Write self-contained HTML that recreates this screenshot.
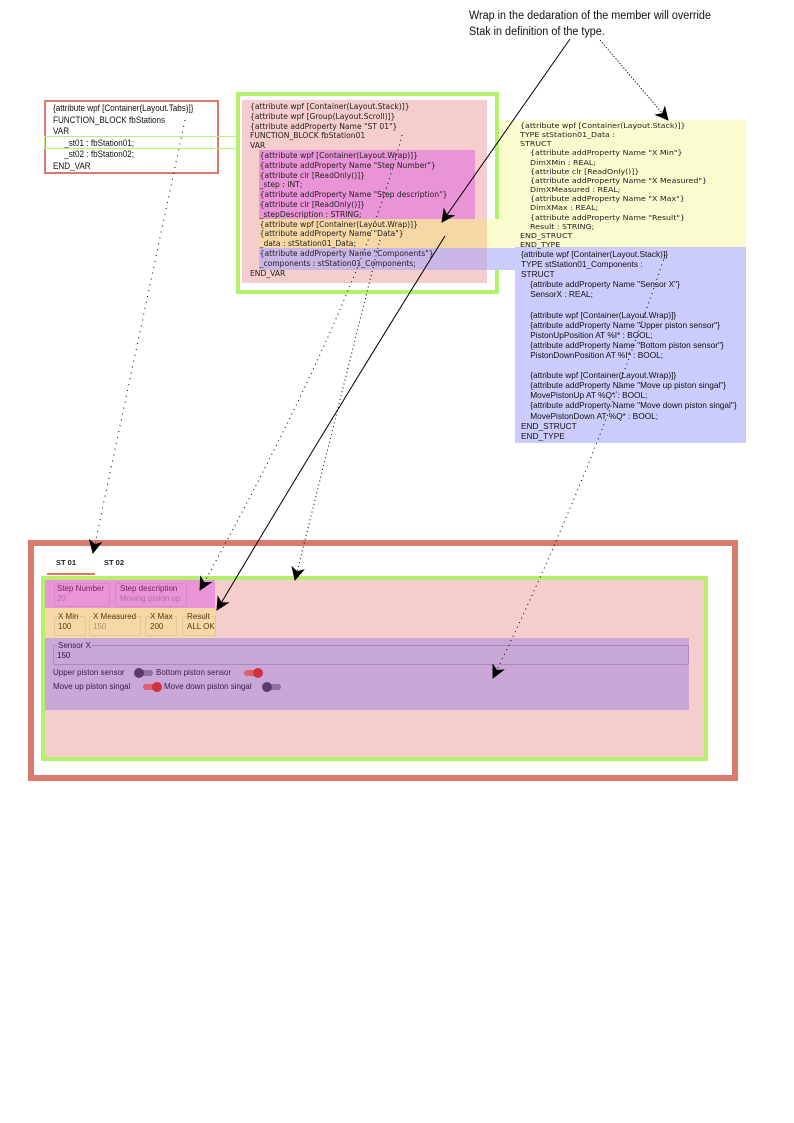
<!DOCTYPE html>
<html><head><meta charset="utf-8"><style>
body{margin:0;width:794px;height:1123px;position:relative;background:#fff;font-family:"Liberation Sans",sans-serif;overflow:hidden}
.a{position:absolute;box-sizing:border-box}
.code{position:absolute;white-space:pre;color:#222;line-height:9.8px;font-size:7.6px;font-family:"DejaVu Sans","Liberation Sans",sans-serif}
.code2{position:absolute;white-space:pre;color:#111;line-height:10.1px;font-size:8.4px;font-family:"Liberation Sans",sans-serif;transform:scaleX(0.99);transform-origin:0 0}
.t{position:absolute;font-size:8px;white-space:nowrap;font-family:"Liberation Sans",sans-serif}
.fld{position:absolute;border:1px solid rgba(0,0,0,0.08);border-radius:2px}
</style></head><body>
<div class="a" style="left:469px;top:8px;font-size:11.5px;line-height:16px;color:#111;transform:scaleX(0.94);transform-origin:0 0;white-space:nowrap">Wrap in the dedaration of the member will override<br>Stak in definition of the type.</div>

<div class="a" style="left:44px;top:100px;width:175px;height:74px;border:2px solid #d97a6c"></div>
<div class="code2" style="left:53px;top:103px;line-height:11.5px;font-size:9px;transform:scaleX(0.9)">{attribute wpf [Container(Layout.Tabs)]}
FUNCTION_BLOCK fbStations
VAR
     _st01 : fbStation01;
     _st02 : fbStation02;
END_VAR</div>
<div class="a" style="left:44px;top:136px;width:194px;height:13px;border:1px solid #b8f080"></div>

<div class="a" style="left:498px;top:120px;width:248px;height:127px;background:#fafcd0"></div>
<div class="a" style="left:515px;top:247px;width:231px;height:196px;background:#ccccfc"></div>

<div class="a" style="left:236px;top:92px;width:263px;height:202px;border:4px solid #b4f06c;background:#fff"></div>
<div class="a" style="left:242px;top:100px;width:245px;height:183px;background:#f6cdcd"></div>
<div class="a" style="left:259px;top:150px;width:216px;height:69px;background:#ea94d8"></div>
<div class="a" style="left:259px;top:219px;width:251px;height:29px;background:#f6d8a6"></div>
<div class="a" style="left:487px;top:219px;width:23px;height:29px;background:#fafcd0"></div>
<div class="a" style="left:259px;top:248px;width:256px;height:22px;background:#c9b6e6"></div>
<div class="a" style="left:487px;top:248px;width:28px;height:22px;background:#ccccfc"></div>
<div class="code" style="left:250px;top:102px">{attribute wpf [Container(Layout.Stack)]}
{attribute wpf [Group(Layout.Scroll)]}
{attribute addProperty Name "ST 01"}
FUNCTION_BLOCK fbStation01
VAR
    {attribute wpf [Container(Layout.Wrap)]}
    {attribute addProperty Name "Step Number"}
    {attribute clr [ReadOnly()]}
    _step : INT;
    {attribute addProperty Name "Step description"}
    {attribute clr [ReadOnly()]}
    _stepDescription : STRING;
    {attribute wpf [Container(Layout.Wrap)]}
    {attribute addProperty Name "Data"}
    _data : stStation01_Data;
    {attribute addProperty Name "Components"}
    _components : stStation01_Components;
END_VAR</div>
<div class="code" style="left:520px;top:121px;line-height:9.15px;font-size:7.3px;transform:scaleX(1.08);transform-origin:0 0">{attribute wpf [Container(Layout.Stack)]}
TYPE stStation01_Data :
STRUCT
    {attribute addProperty Name "X Min"}
    DimXMin : REAL;
    {attribute clr [ReadOnly()]}
    {attribute addProperty Name "X Measured"}
    DimXMeasured : REAL;
    {attribute addProperty Name "X Max"}
    DimXMax : REAL;
    {attribute addProperty Name "Result"}
    Result : STRING;
END_STRUCT
END_TYPE</div>
<div class="code2" style="left:521px;top:249px">{attribute wpf [Container(Layout.Stack)]}
TYPE stStation01_Components :
STRUCT
    {attribute addProperty Name "Sensor X"}
    SensorX : REAL;

    {attribute wpf [Container(Layout.Wrap)]}
    {attribute addProperty Name "Upper piston sensor"}
    PistonUpPosition AT %I* : BOOL;
    {attribute addProperty Name "Bottom piston sensor"}
    PistonDownPosition AT %I* : BOOL;

    {attribute wpf [Container(Layout.Wrap)]}
    {attribute addProperty Name "Move up piston singal"}
    MovePistonUp AT %Q* : BOOL;
    {attribute addProperty Name "Move down piston singal"}
    MovePistonDown AT %Q* : BOOL;
END_STRUCT
END_TYPE</div>

<div class="a" style="left:28px;top:540px;width:710px;height:241px;border:6px solid #d97a6c;background:#fff"></div>
<div class="t" style="left:56px;top:558px;font-weight:bold;font-size:7.5px;color:#222">ST 01</div>
<div class="t" style="left:104px;top:558px;font-weight:bold;font-size:7.5px;color:#222">ST 02</div>
<div class="a" style="left:47px;top:573px;width:48px;height:2px;background:#f07050"></div>
<div class="a" style="left:41px;top:576px;width:667px;height:185px;border:4px solid #b4f06c;background:#f6cdcd"></div>
<div class="a" style="left:45px;top:580px;width:170px;height:28px;background:#ea94d8"></div>
<div class="a" style="left:45px;top:608px;width:170px;height:30px;background:#f6d8a6"></div>
<div class="a" style="left:45px;top:638px;width:644px;height:72px;background:#c9a8d8"></div>
<div class="fld" style="left:54px;top:583px;width:54px;height:22px"></div>
<div class="fld" style="left:115px;top:583px;width:70px;height:22px"></div>
<div class="t" style="left:57px;top:584px;color:#802060">Step Number</div>
<div class="t" style="left:57px;top:594px;color:#b070a0">20</div>
<div class="t" style="left:120px;top:584px;color:#802060">Step description</div>
<div class="t" style="left:120px;top:594px;color:#b070a0">Moving piston up</div>
<div class="fld" style="left:54px;top:616px;width:30px;height:18px"></div>
<div class="fld" style="left:89px;top:616px;width:50px;height:18px"></div>
<div class="fld" style="left:145px;top:616px;width:30px;height:18px"></div>
<div class="fld" style="left:182px;top:616px;width:32px;height:18px"></div>
<div class="t" style="left:58px;top:612px;color:#5a3a10">X Min</div>
<div class="t" style="left:58px;top:622px;color:#5a3a10">100</div>
<div class="t" style="left:93px;top:612px;color:#5a3a10">X Measured</div>
<div class="t" style="left:93px;top:622px;color:#b09070">150</div>
<div class="t" style="left:150px;top:612px;color:#5a3a10">X Max</div>
<div class="t" style="left:150px;top:622px;color:#5a3a10">200</div>
<div class="t" style="left:187px;top:612px;color:#5a3a10">Result</div>
<div class="t" style="left:187px;top:622px;color:#5a3a10">ALL OK</div>
<div class="fld" style="left:53px;top:645px;width:634px;height:18px;border-color:rgba(90,40,110,0.25)"></div>
<div class="t" style="left:57px;top:641px;color:#3a2050;background:#c9a8d8;padding:0 1px">Sensor X</div>
<div class="t" style="left:57px;top:651px;color:#2a1040">150</div>
<div class="t" style="left:53px;top:668px;color:#3a1a50">Upper piston sensor</div>
<div class="a" style="left:137px;top:670px;width:16px;height:6px;border-radius:3px;background:#9070a0"></div>
<div class="a" style="left:134px;top:668px;width:10px;height:10px;border-radius:5px;background:#5a3a70"></div>
<div class="t" style="left:156px;top:668px;color:#3a1a50">Bottom piston sensor</div>
<div class="a" style="left:244px;top:670px;width:16px;height:6px;border-radius:3px;background:#e06070"></div>
<div class="a" style="left:253px;top:668px;width:10px;height:10px;border-radius:5px;background:#d03040"></div>
<div class="t" style="left:53px;top:682px;color:#3a1a50">Move up piston singal</div>
<div class="a" style="left:143px;top:684px;width:16px;height:6px;border-radius:3px;background:#e06070"></div>
<div class="a" style="left:152px;top:682px;width:10px;height:10px;border-radius:5px;background:#d03040"></div>
<div class="t" style="left:164px;top:682px;color:#3a1a50">Move down piston singal</div>
<div class="a" style="left:265px;top:684px;width:16px;height:6px;border-radius:3px;background:#9070a0"></div>
<div class="a" style="left:262px;top:682px;width:10px;height:10px;border-radius:5px;background:#5a3a70"></div>

<svg class="a" style="left:0;top:0" width="794" height="1123">
<defs>
<marker id="ahb" markerWidth="14" markerHeight="14" refX="13" refY="7" orient="auto" markerUnits="userSpaceOnUse" viewBox="0 0 14 14"><path d="M0,0 L14,7 L0,14 L4,7 Z" fill="#000"/></marker></defs>
<g fill="none" stroke="#000">
<path d="M570,39 L442,222" stroke-width="1" marker-end="url(#ahb)"/>
<path d="M445,236 Q330,420 217,610" stroke-width="1" marker-end="url(#ahb)"/>
<path d="M600,40 L668,120" stroke-width="0.8" stroke-dasharray="1.5,1.5" marker-end="url(#ahb)"/>
<path d="M185,120 L93,553" stroke-width="1" stroke-dasharray="1,5" marker-end="url(#ahb)"/>
<path d="M402,135 Q360,300 200,590" stroke-width="1" stroke-dasharray="1,4" marker-end="url(#ahb)"/>
<path d="M380,240 Q340,400 295,580" stroke-width="1" stroke-dasharray="1,3" marker-end="url(#ahb)"/>
<path d="M665,255 Q590,480 493,678" stroke-width="1" stroke-dasharray="1,4" marker-end="url(#ahb)"/>
</g></svg>
</body></html>
